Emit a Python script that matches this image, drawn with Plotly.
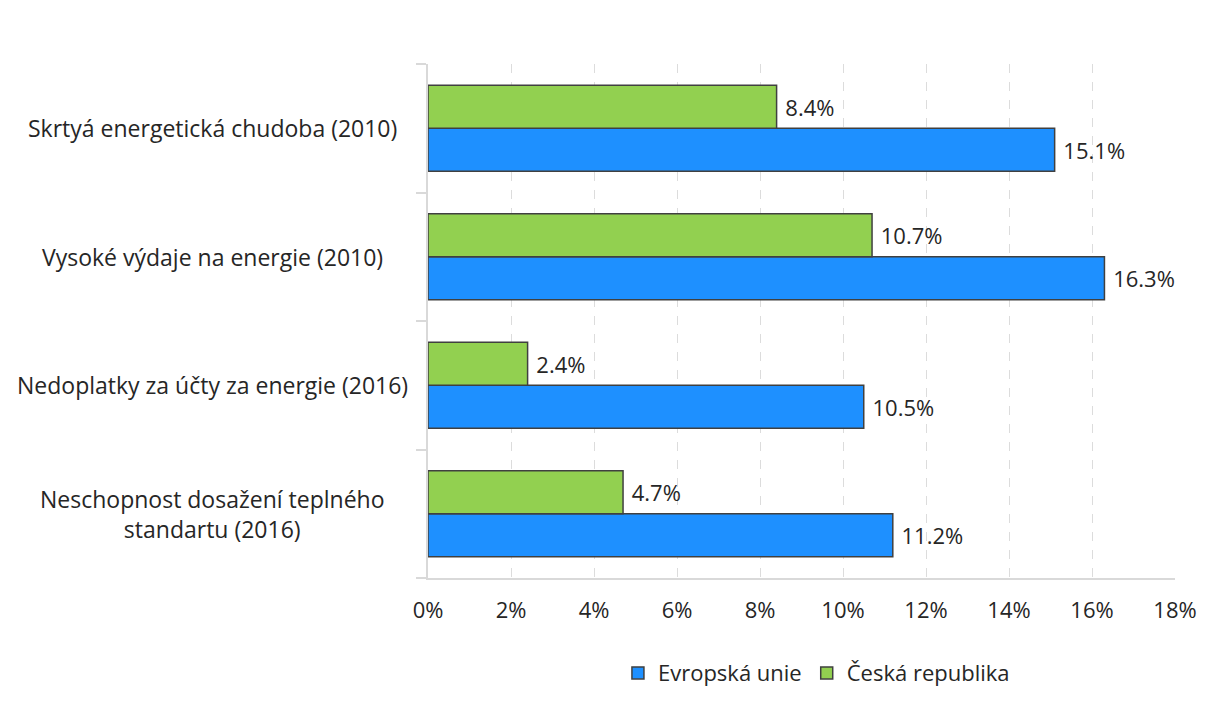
import plotly.graph_objects as go

# categories listed bottom -> top (plotly puts the first category at the bottom)
categories = [
    "Neschopnost dosažení teplného<br>standartu (2016)",
    "Nedoplatky za účty za energie (2016)",
    "Vysoké výdaje na energie (2010)",
    "Skrtyá energetická chudoba (2010)",
]
eu_values = [11.2, 10.5, 16.3, 15.1]
cz_values = [4.7, 2.4, 10.7, 8.4]
x_ticks = [0, 2, 4, 6, 8, 10, 12, 14, 16, 18]

FONT = "Open Sans"
TEXT = "#262626"
SIZE = 22

fig = go.Figure()
fig.add_trace(go.Bar(
    y=categories, x=eu_values, orientation="h", name="Evropská unie",
    marker=dict(color="#1E90FF", line=dict(color="#404040", width=1.5)),
    text=[f"\u00a0{v:.1f}%" for v in eu_values], textposition="outside",
    cliponaxis=False,
))
fig.add_trace(go.Bar(
    y=categories, x=cz_values, orientation="h", name="Česká republika",
    marker=dict(color="#92D050", line=dict(color="#404040", width=1.5)),
    text=[f"\u00a0{v:.1f}%" for v in cz_values], textposition="outside",
    cliponaxis=False,
))
fig.update_traces(textfont=dict(family=FONT, size=SIZE, color=TEXT))

# category labels, centred in the left margin
for c in categories:
    fig.add_annotation(x=-0.289, y=c, xref="paper", yref="y", text=c,
                       showarrow=False, xanchor="center", align="center",
                       font=dict(family=FONT, size=23, color=TEXT))

# page body has an 8px margin, so the margins are shifted by 8px
fig.update_layout(
    width=1206, height=722,
    margin=dict(l=420, r=39, t=56, b=152),
    barmode="group", bargap=0.33, bargroupgap=0,
    plot_bgcolor="white", paper_bgcolor="white",
    font=dict(family=FONT, size=SIZE, color=TEXT),
    showlegend=True,
    legend=dict(orientation="h", x=0.52, y=-0.185, xanchor="center",
                yanchor="middle", font=dict(size=SIZE), itemwidth=30,
                traceorder="normal"),
)
fig.update_xaxes(
    range=[0, 18], tickvals=x_ticks, ticktext=[f"{t}%" for t in x_ticks],
    showgrid=True, gridcolor="#dcdcdc", griddash="dash", gridwidth=1,
    showline=True, linecolor="#d9d9d9", linewidth=2, zeroline=False,
    ticks="", ticklabelstandoff=12, fixedrange=True,
)
fig.update_yaxes(
    showticklabels=False, ticks="outside", tickson="boundaries",
    ticklen=10, tickcolor="#d9d9d9", tickwidth=2,
    showline=True, linecolor="#d9d9d9", linewidth=2, showgrid=False,
)

fig.write_html("out.html")
